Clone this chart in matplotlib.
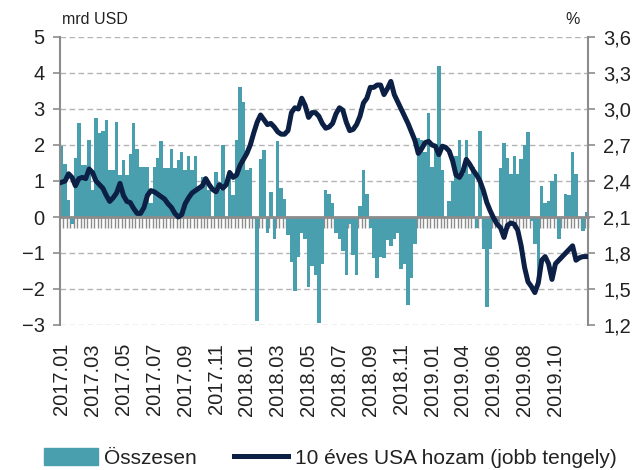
import numpy as np
import matplotlib.pyplot as plt
from matplotlib.patches import Patch
from matplotlib.lines import Line2D

# weekly net flows, mrd USD
flows = [1.97, 1.47, 0.47, -0.2, 1.63, 2.6, 1.44, 1.44, 2.14, 0.75,
         2.74, 2.32, 2.4, 2.7, 1.3, 1.3, 2.65, 1.17, 1.58, 1.17,
         1.75, 2.6, 1.9, 1.4, 1.4, 1.4, 0.4, 1.4, 1.63, 2.1,
         1.35, 1.35, 1.9, 1.35, 1.58, 1.8, 1.3, 1.7, 1.3, 1.7,
         0.85, 1.1, 1.0, 0.75, -0.05, 1.26, 0.75, 2.0, 0.0, 1.3,
         0.6, 2.14, 3.6, 3.2, 1.3, 1.35, 0.0, -2.9, 1.6, 1.85,
         -0.45, 0.7, -0.6, 2.1, 0.8, 0.5, -0.5, -1.25, -2.05, -1.1,
         -0.45, -0.6, -1.95, -1.35, -1.6, -2.95, -1.3, 0.75, 0.65, 0.4,
         -0.45, -0.6, -0.95, -1.6, -0.2, -1.05, -1.6, 0.3, 1.3, 0.65,
         -0.3, -1.15, -1.7, -1.1, -1.15, -0.65, -0.8, -0.6, -0.45, -1.45,
         -1.3, -2.45, -1.7, -0.75, 2.2, 2.15, 1.8, 2.9, 1.4, 2.0,
         4.2, 1.3, 0.0, 0.45, 1.0, 1.7, 2.15, 1.2, 2.15, 1.2,
         1.4, -0.3, 2.4, -0.9, -2.5, -0.9, -0.1, -0.1, 1.35, 2.05,
         1.65, 1.2, 1.7, 1.2, 1.6, 2.0, 2.35, -0.1, -0.75, -1.65,
         0.85, 0.4, 0.45, 1.0, 1.2, -0.6, 0.0, 0.65, 0.6, 1.8,
         1.2, 0.0, -0.4, 0.13]

# 10y US treasury yield, %
yields = [2.39, 2.40, 2.46, 2.43, 2.36, 2.42, 2.43, 2.42, 2.50, 2.47,
          2.40, 2.37, 2.34, 2.28, 2.23, 2.26, 2.30, 2.38, 2.28, 2.23,
          2.22, 2.17, 2.13, 2.13, 2.18, 2.28, 2.32, 2.31, 2.29, 2.27,
          2.25, 2.21, 2.18, 2.13, 2.10, 2.12, 2.21, 2.26, 2.30, 2.32,
          2.34, 2.36, 2.42, 2.37, 2.33, 2.31, 2.37, 2.34, 2.37, 2.47,
          2.43, 2.45, 2.53, 2.58, 2.63, 2.70, 2.80, 2.89, 2.95, 2.91,
          2.87, 2.88, 2.85, 2.81, 2.79, 2.79, 2.82, 2.97, 3.01, 3.00,
          3.09, 3.03, 2.93, 2.97, 2.97, 2.94, 2.88, 2.84, 2.85, 2.88,
          2.96, 3.01, 2.99, 2.89, 2.82, 2.83, 2.87, 2.94, 3.05, 3.09,
          3.18, 3.18, 3.20, 3.20, 3.12, 3.17, 3.23, 3.12, 3.06, 3.00,
          2.94, 2.88, 2.81, 2.74, 2.63, 2.67, 2.72, 2.73, 2.70, 2.69,
          2.62, 2.69, 2.68, 2.65, 2.57, 2.45, 2.43, 2.48, 2.58, 2.54,
          2.49, 2.45, 2.40, 2.32, 2.22, 2.15, 2.09, 2.04, 2.01, 1.93,
          2.03, 2.05, 2.04, 1.99, 1.86, 1.68, 1.56, 1.52, 1.47, 1.55,
          1.74, 1.77, 1.71, 1.58, 1.71, 1.74, 1.77, 1.80, 1.83, 1.86,
          1.74, 1.76, 1.77, 1.77]

month_labels = ['2017.01', '2017.03', '2017.05', '2017.07', '2017.09', '2017.11',
                '2018.01', '2018.03', '2018.05', '2018.07', '2018.09', '2018.11',
                '2019.01', '2019.04', '2019.06', '2019.08', '2019.10']
label_step = 9

plt.rcParams['font.family'] = ['Liberation Sans', 'DejaVu Sans']

bar_col = '#4a9faf'
line_col = '#0c1f45'
axis_col = '#8c8c8c'
txt_col = '#222222'

fig = plt.figure(figsize=(6.42, 4.70), dpi=100)
ax = fig.add_axes([60 / 642, 1 - 325 / 470, 528 / 642, 288 / 470])

x = np.arange(len(flows))
ax.bar(x, flows, width=1.0, color=bar_col, zorder=2)
ax.set_xlim(-0.5, len(flows) - 0.5)
ax.set_ylim(-3, 5)
ax.set_yticks(range(-3, 6))
ax.grid(axis='y', ls=(0, (4, 2.5)), color='#b4b4b4', lw=1)
ax.set_axisbelow(True)
ax.tick_params(axis='y', direction='out', length=5, width=1.2, color=axis_col,
               labelsize=14.5, labelcolor=txt_col, pad=6)

# zero line with a tick mark between every category
ax.spines['bottom'].set_position(('data', 0))
ax.spines['bottom'].set_color(axis_col)
ax.spines['bottom'].set_linewidth(2)
ax.spines['bottom'].set_zorder(3)
ax.set_xticks(x + 0.5)
ax.tick_params(axis='x', direction='out', length=8, width=1, color=axis_col,
               labelbottom=False)
for s in ['top', 'right']:
    ax.spines[s].set_visible(False)
ax.spines['left'].set_color(axis_col)
ax.spines['left'].set_linewidth(1.5)

# date labels at the bottom
sec = ax.secondary_xaxis('bottom')
label_pos = x[::label_step][:len(month_labels)]
sec.set_xticks(label_pos, month_labels)
sec.tick_params(length=0, pad=13, labelsize=14.5, labelcolor=txt_col, labelrotation=90)
sec.spines['bottom'].set_visible(False)

ax2 = ax.twinx()
ax2.plot(x, yields, color=line_col, lw=3.6, solid_joinstyle='round', zorder=4)
ax2.set_ylim(1.2, 3.6)
yt = np.arange(1.2, 3.61, 0.3)
ax2.set_yticks(yt, [f'{v:.1f}'.replace('.', ',') for v in yt])
ax2.tick_params(axis='y', direction='out', length=5, width=1.2, color=axis_col,
                labelsize=14.5, labelcolor=txt_col, pad=6)
for s in ['top', 'left', 'bottom']:
    ax2.spines[s].set_visible(False)
ax2.spines['right'].set_color(axis_col)
ax2.spines['right'].set_linewidth(1.5)

fig.text(62 / 642, 1 - 20 / 470, 'mrd USD', fontsize=11.5, color=txt_col, va='center')
fig.text(580 / 642, 1 - 20 / 470, '%', fontsize=11.5, color=txt_col, va='center', ha='right')

handles = [Patch(color=bar_col, label='Összesen'),
           Line2D([], [], color=line_col, lw=3.6, label='10 éves USA hozam (jobb tengely)')]
fig.legend(handles=handles, loc='center', bbox_to_anchor=(0.514, 0.026), ncol=2,
           frameon=False, fontsize=15, handlelength=2.6, handleheight=0.9,
           columnspacing=1.8, handletextpad=0.3, labelcolor=txt_col)

fig.savefig('out.png', dpi=100)
